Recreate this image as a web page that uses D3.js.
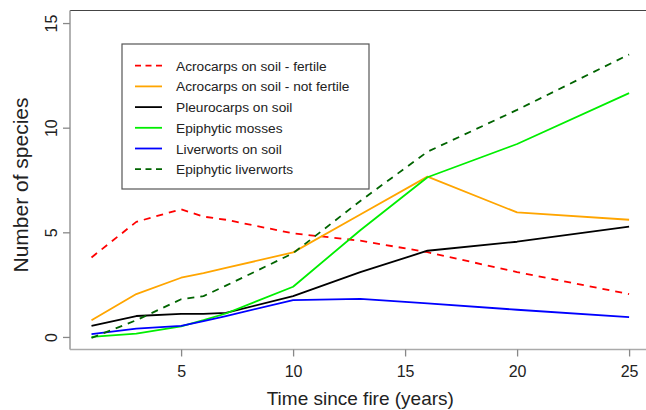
<!DOCTYPE html>
<html>
<head>
<meta charset="utf-8">
<script src="https://cdn.jsdelivr.net/npm/d3@7"></script>
<style>
  html, body { margin: 0; padding: 0; background: #fff; }
  svg { display: block; font-family: "Liberation Sans", Arial, sans-serif; }
</style>
</head>
<body>
<svg id="chart" width="646" height="410"></svg>
<script>
// ---- data ----
const years = [1, 3, 5, 6, 7, 10, 13, 16, 20, 25];
const acroFertile    = [3.8, 5.5, 6.1, 5.75, 5.6, 4.95, 4.6, 4.05, 3.1, 2.05];
const acroNotFertile = [0.8, 2.05, 2.83, 3.05, 3.3, 4.04, 5.85, 7.66, 5.95, 5.6];
const pleurocarps    = [0.53, 1.0, 1.1, 1.1, 1.15, 1.95, 3.1, 4.12, 4.55, 5.27];
const epiMosses      = [0.0, 0.16, 0.51, 0.8, 1.12, 2.4, 5.1, 7.63, 9.22, 11.65];
const liverSoil      = [0.13, 0.4, 0.53, 0.76, 1.0, 1.76, 1.82, 1.6, 1.3, 0.95];
const epiLiverworts  = [-0.05, 0.8, 1.8, 1.95, 2.45, 4.0, 6.5, 8.85, 10.85, 13.5];

const seriesNames  = ["Acrocarps on soil - fertile", "Acrocarps on soil - not fertile",
                      "Pleurocarps on soil", "Epiphytic mosses", "Liverworts on soil",
                      "Epiphytic liverworts"];
const seriesValues = [acroFertile, acroNotFertile, pleurocarps, epiMosses, liverSoil, epiLiverworts];
const seriesColors = ["#ff0000", "#ffa500", "#000000", "#00ee00", "#0000ff", "#006400"];
const seriesDashed = [true, false, false, false, false, true];

const xTicks = [5, 10, 15, 20, 25];
const yTicks = [0, 5, 10, 15];
const xTitle = "Time since fire (years)";
const yTitle = "Number of species";

// ---- layout ----
const svg = d3.select("#chart");
const L = 70, R = 650.6, T = 10.5, B = 349.5;
const x = d3.scaleLinear().domain([0.04, 25.96]).range([L, R]);
const y = d3.scaleLinear().domain([-0.6, 15.6]).range([B, T]);

// clip
svg.append("clipPath").attr("id", "plotclip")
  .append("rect").attr("x", L).attr("y", T).attr("width", R - L).attr("height", B - T);

// lines
const line = d3.line().x(d => x(d[0])).y(d => y(d[1]));
const gLines = svg.append("g").attr("clip-path", "url(#plotclip)");
seriesValues.forEach((vals, i) => {
  gLines.append("path")
    .datum(years.map((yr, j) => [yr, vals[j]]))
    .attr("d", line)
    .attr("fill", "none")
    .attr("stroke", seriesColors[i])
    .attr("stroke-width", 1.8)
    .attr("stroke-linejoin", "round")
    .attr("stroke-dasharray", seriesDashed[i] ? "7,6" : null);
});

// box
svg.append("line").attr("x1", L).attr("x2", R).attr("y1", T).attr("y2", T)
  .attr("stroke", "#444").attr("stroke-width", 1.2);
svg.append("line").attr("x1", L).attr("x2", L).attr("y1", T).attr("y2", B)
  .attr("stroke", "#999").attr("stroke-width", 1.5);
svg.append("line").attr("x1", L).attr("x2", R).attr("y1", B).attr("y2", B)
  .attr("stroke", "#aaa").attr("stroke-width", 1.5);

// x axis
const xAxis = svg.append("g").attr("transform", `translate(0,${B})`)
  .call(d3.axisBottom(x).tickValues(xTicks).tickSize(7).tickPadding(9).tickFormat(d3.format("d")));
xAxis.select(".domain").remove();
xAxis.selectAll(".tick line").attr("stroke", "#888").attr("stroke-width", 1.3);
xAxis.selectAll(".tick text").attr("font-size", 16).attr("fill", "#222")
  .attr("font-family", "Liberation Sans, Arial, sans-serif");

// y axis
const yAxis = svg.append("g").attr("transform", `translate(${L},0)`)
  .call(d3.axisLeft(y).tickValues(yTicks).tickSize(7).tickFormat(d3.format("d")));
yAxis.select(".domain").remove();
yAxis.selectAll(".tick line").attr("stroke", "#888").attr("stroke-width", 1.3);
yAxis.selectAll(".tick text")
  .attr("font-size", 16).attr("fill", "#222")
  .attr("font-family", "Liberation Sans, Arial, sans-serif")
  .attr("x", null).attr("dy", null)
  .attr("text-anchor", "middle")
  .attr("transform", "translate(-13,0) rotate(-90)");

// axis titles
svg.append("text").attr("x", (L + R) / 2).attr("y", 405)
  .attr("text-anchor", "middle").attr("font-size", 19).attr("fill", "#222").text(xTitle);
svg.append("text").attr("transform", `translate(28,${(T + B) / 2 + 5}) rotate(-90)`)
  .attr("text-anchor", "middle").attr("font-size", 21).attr("fill", "#222").text(yTitle);

// legend
const lg = svg.append("g");
lg.append("rect").attr("x", 122).attr("y", 44).attr("width", 247).attr("height", 145)
  .attr("fill", "#fff").attr("stroke", "#555").attr("stroke-width", 1.2);
seriesNames.forEach((name, i) => {
  const yy = 65.7 + i * 20.7;
  lg.append("line").attr("x1", 135).attr("x2", 162).attr("y1", yy).attr("y2", yy)
    .attr("stroke", seriesColors[i]).attr("stroke-width", 1.8)
    .attr("stroke-dasharray", seriesDashed[i] ? "6,4.5" : null);
  lg.append("text").attr("x", 176).attr("y", yy + 5).attr("font-size", 13.7)
    .attr("fill", "#222").text(name);
});
</script>
</body>
</html>
